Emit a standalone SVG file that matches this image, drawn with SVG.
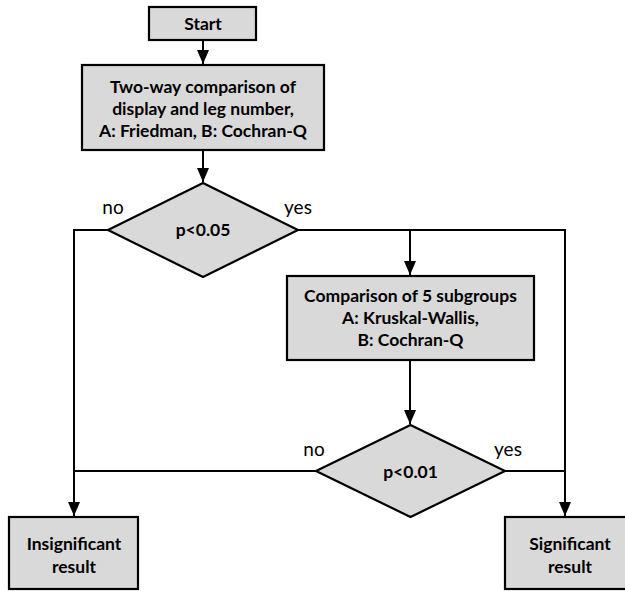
<svg xmlns="http://www.w3.org/2000/svg" width="625" height="591" viewBox="0 0 625 591">
<style>
.box{fill:#d9d9d9;stroke:#000;stroke-width:2.2}
.t{font-family:Lato,"Liberation Sans",sans-serif;font-weight:bold;font-size:17.5px;fill:#000;text-anchor:middle}
.l{font-family:Lato,"Liberation Sans",sans-serif;font-size:19px;fill:#000;text-anchor:middle}
.c{fill:none;stroke:#000;stroke-width:2}
</style>
<defs>
<marker id="ah" markerUnits="userSpaceOnUse" markerWidth="16" markerHeight="16" viewBox="0 0 16 16" refX="14" refY="8" orient="auto">
<path d="M0,2 L14,8 L0,14 Z" fill="#000"/>
</marker>
</defs>
<g id="connectors">
<path class="c" d="M203,40 V64" marker-end="url(#ah)"/>
<path class="c" d="M203,150 V182" marker-end="url(#ah)"/>
<path class="c" d="M108,230 H74 V516" marker-end="url(#ah)"/>
<path class="c" d="M298,230 H565 V516" marker-end="url(#ah)"/>
<path class="c" d="M410,230 V275" marker-end="url(#ah)"/>
<path class="c" d="M410,360 V424" marker-end="url(#ah)"/>
<path class="c" d="M316,471 H74"/>
<path class="c" d="M505,471 H565"/>
</g>
<g id="start">
<rect class="box" x="149" y="7" width="107" height="33"/>
<text class="t" x="203" y="30">Start</text>
</g>
<g id="twoway">
<rect class="box" x="82" y="65" width="242" height="85"/>
<text class="t" x="203" y="93">Two-way comparison of</text>
<text class="t" x="203" y="115">display and leg number,</text>
<text class="t" x="203" y="137">A: Friedman, B: Cochran-Q</text>
</g>
<g id="dec1">
<polygon class="box" points="203,183 298,230 203,277 108,230"/>
<text class="t" x="203" y="236">p&lt;0.05</text>
<text class="l" x="113" y="214">no</text>
<text class="l" x="298" y="214">yes</text>
</g>
<g id="subgroups">
<rect class="box" x="287" y="276" width="247" height="84"/>
<text class="t" x="410.5" y="302">Comparison of 5 subgroups</text>
<text class="t" x="410.5" y="324">A: Kruskal-Wallis,</text>
<text class="t" x="410.5" y="346">B: Cochran-Q</text>
</g>
<g id="dec2">
<polygon class="box" points="410.5,425 505,471 410.5,517 316,471"/>
<text class="t" x="410.5" y="478">p&lt;0.01</text>
<text class="l" x="314" y="456">no</text>
<text class="l" x="508" y="456">yes</text>
</g>
<g id="insig">
<rect class="box" x="9" y="517" width="129" height="72"/>
<text class="t" x="74" y="550">Insignificant</text>
<text class="t" x="74" y="573">result</text>
</g>
<g id="sig">
<rect class="box" x="505" y="517" width="129" height="72"/>
<text class="t" x="570" y="550">Significant</text>
<text class="t" x="570" y="573">result</text>
</g>
</svg>
